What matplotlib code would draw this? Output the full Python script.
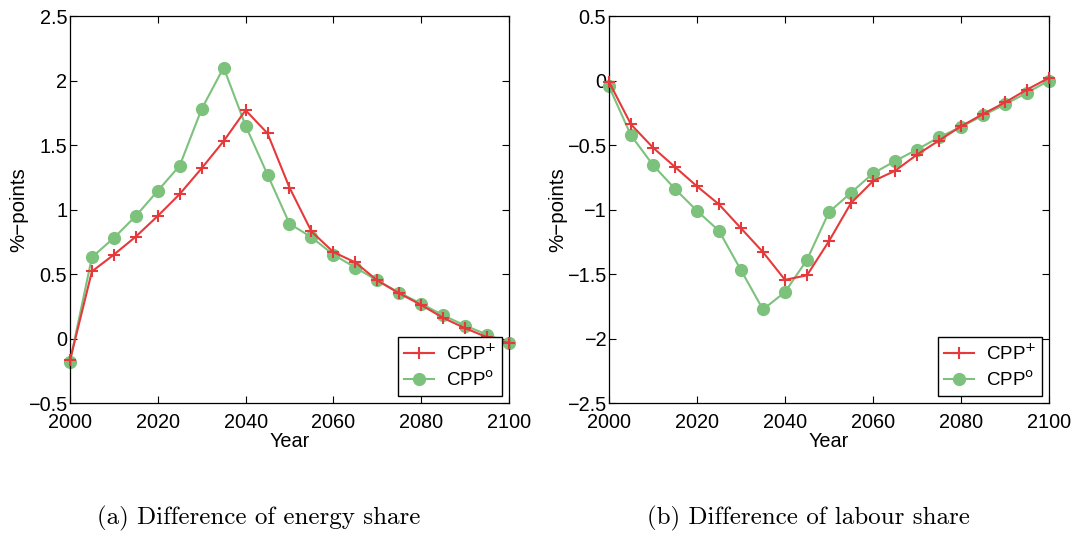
import numpy as np
import matplotlib.pyplot as plt

years = list(range(2000, 2101, 5))

# (a) energy share difference
energy_plus = [-0.17, 0.52, 0.65, 0.79, 0.95, 1.12, 1.32, 1.53, 1.77, 1.59, 1.17,
               0.83, 0.67, 0.59, 0.45, 0.35, 0.26, 0.16, 0.08, 0.01, -0.035]
energy_zero = [-0.18, 0.63, 0.78, 0.95, 1.145, 1.34, 1.78, 2.10, 1.65, 1.27, 0.89,
               0.785, 0.65, 0.55, 0.45, 0.355, 0.27, 0.18, 0.10, 0.03, -0.035]

# (b) labour share difference
labour_plus = [-0.01, -0.34, -0.52, -0.67, -0.82, -0.96, -1.145, -1.33, -1.545, -1.51, -1.245,
               -0.95, -0.78, -0.70, -0.575, -0.465, -0.355, -0.26, -0.17, -0.07, 0.02]
labour_zero = [-0.045, -0.425, -0.655, -0.84, -1.01, -1.165, -1.47, -1.775, -1.64, -1.39, -1.02,
               -0.87, -0.72, -0.625, -0.535, -0.44, -0.36, -0.27, -0.185, -0.095, 0.0]

captions = ["(a) Difference of energy share", "(b) Difference of labour share"]
ylims = [(-0.5, 2.5), (-2.5, 0.5)]

red = "#e6393b"
green = "#7cc27c"

plt.rcParams['font.family'] = ['Liberation Sans', 'DejaVu Sans']

fig = plt.figure(figsize=(10.78, 5.34), dpi=100)
axes = [fig.add_axes([0.0649, 0.2453, 0.4073, 0.7247]),
        fig.add_axes([0.5649, 0.2453, 0.4082, 0.7247])]
cap_x = [259 / 1078, 808.5 / 1078]

for ax, plus, zero, cap, yl, cx in zip(axes, [energy_plus, labour_plus],
                                       [energy_zero, labour_zero], captions, ylims, cap_x):
    ax.plot(years, plus, color=red, lw=1.5, marker='+', ms=9, mew=1.5,
            label=r"CPP$^{+}$", zorder=3, clip_on=False)
    ax.plot(years, zero, color=green, lw=1.5, marker='o', ms=8.5,
            label=r"CPP$^{\mathrm{o}}$", zorder=2, clip_on=False)
    ax.set_xlim(2000, 2100)
    ax.set_ylim(*yl)
    ax.set_xticks(range(2000, 2101, 20))
    yt = np.arange(yl[0], yl[1] + 0.01, 0.5)
    ax.set_yticks(yt)
    ax.set_yticklabels([f"{v:g}".replace("-", "\u2212") for v in yt])
    ax.tick_params(direction='in', length=5, width=0.8, top=True, right=True,
                   labelsize=14.3, pad=2)
    ax.tick_params(axis='x', pad=7)
    ax.set_xlabel("Year", fontsize=14.3, labelpad=0)
    ax.set_ylabel("%\u2212points", fontsize=14.8, labelpad=0)
    for s in ax.spines.values():
        s.set_linewidth(0.9)
    leg = ax.legend(loc='lower right', fontsize=13.5, fancybox=False, framealpha=1,
                    edgecolor='black', borderaxespad=0.35, handlelength=1.6,
                    borderpad=0.35, labelspacing=0.35, handletextpad=0.6)
    leg.get_frame().set_linewidth(1.0)
    fig.text(cx, 1 - 518 / 534, cap, ha='center', va='center',
             fontsize=18, family=['cmr10', 'DejaVu Serif'])

fig.savefig("out.png", dpi=100)
